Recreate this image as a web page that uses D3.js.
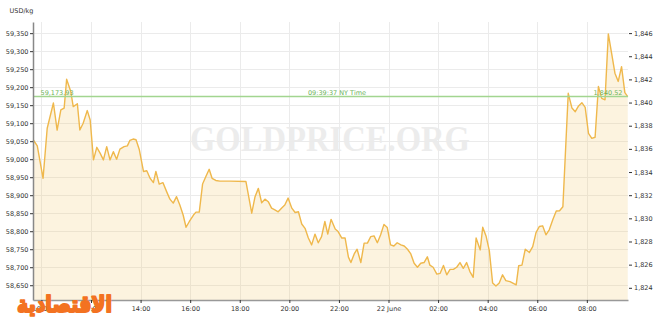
<!DOCTYPE html>
<html>
<head>
<meta charset="utf-8">
<script src="https://cdn.jsdelivr.net/npm/d3@7"></script>
<style>
body { margin: 0; background: #fff; }
svg { display: block; font-family: "DejaVu Sans", sans-serif; }
</style>
</head>
<body>
<svg id="chart" width="660" height="322"></svg>
<script>
// gold price, USD per kg, 24h ending 22 June 09:39 NY time
const times = [
  "21 09:40","21 09:50","21 10:04","21 10:14","21 10:29","21 10:38","21 10:47","21 10:55","21 11:01","21 11:11",
  "21 11:17","21 11:27","21 11:33","21 11:41","21 11:51","21 11:58","21 12:06","21 12:14","21 12:22","21 12:30",
  "21 12:38","21 12:46","21 12:54","21 13:02","21 13:10","21 13:20","21 13:28","21 13:34","21 13:42","21 13:49",
  "21 13:57","21 14:07","21 14:15","21 14:23","21 14:31","21 14:37","21 14:45","21 14:54","21 15:03","21 15:11",
  "21 15:19","21 15:27","21 15:35","21 15:43","21 15:50","21 15:58","21 16:08","21 16:14","21 16:22","21 16:30",
  "21 16:38","21 16:46","21 16:53","21 17:02","21 17:12","21 17:36","21 18:15","21 18:29","21 18:37","21 18:45",
  "21 18:53","21 19:01","21 19:09","21 19:17","21 19:25","21 19:33","21 19:41","21 19:49","21 19:57","21 20:06",
  "21 20:14","21 20:22","21 20:30","21 20:38","21 20:46","21 20:54","21 21:02","21 21:10","21 21:18","21 21:26",
  "21 21:33","21 21:41","21 21:51","21 21:58","21 22:07","21 22:15","21 22:23","21 22:29","21 22:37","21 22:44",
  "21 22:53","21 23:01","21 23:09","21 23:17","21 23:25","21 23:33","21 23:41","21 23:49","21 23:57","22 00:05",
  "22 00:13","22 00:21","22 00:30","22 00:38","22 00:46","22 00:54","22 01:02","22 01:10","22 01:18","22 01:26",
  "22 01:34","22 01:40","22 01:48","22 01:57","22 02:05","22 02:13","22 02:21","22 02:29","22 02:37","22 02:45",
  "22 02:53","22 03:01","22 03:09","22 03:17","22 03:25","22 03:32","22 03:42","22 03:48","22 03:56","22 04:04",
  "22 04:12","22 04:20","22 04:28","22 04:36","22 04:44","22 04:54","22 05:09","22 05:15","22 05:23","22 05:31",
  "22 05:41","22 05:49","22 05:57","22 06:05","22 06:13","22 06:21","22 06:29","22 06:38","22 06:46","22 06:54",
  "22 07:02","22 07:15","22 07:24","22 07:32","22 07:40","22 07:48","22 07:56","22 08:04","22 08:12","22 08:20",
  "22 08:28","22 08:36","22 08:44","22 08:52","22 09:00","22 09:08","22 09:16","22 09:24","22 09:32","22 09:39"
];
const prices = [
  59054,59037,58947,59086,59156,59081,59137,59142,59222,59188,
  59146,59154,59081,59100,59135,59109,58998,59033,59017,58998,
  59035,58998,59021,59000,59028,59035,59037,59052,59056,59054,
  59026,58966,58968,58947,58935,58966,58931,58935,58910,58889,
  58878,58896,58873,58845,58811,58827,58845,58853,58853,58931,
  58952,58972,58947,58941,58939,58939,58938,58850,58896,58919,
  58879,58889,58882,58864,58859,58854,58864,58873,58892,58864,
  58852,58854,58820,58808,58781,58762,58792,58768,58785,58827,
  58792,58833,58806,58799,58781,58781,58728,58713,58737,58750,
  58713,58767,58767,58785,58787,58768,58790,58819,58810,58762,
  58759,58768,58762,58759,58750,58737,58711,58700,58711,58713,
  58729,58706,58700,58681,58683,58705,58679,58694,58694,58700,
  58713,58697,58713,58688,58672,58781,58748,58811,58787,58746,
  58656,58648,58656,58679,58663,58660,58651,58704,58706,58750,
  58741,58757,58796,58813,58815,58790,58804,58833,58856,58857,
  58868,59183,59142,59132,59148,59157,59144,59072,59058,59061,
  59202,59169,59165,59348,59294,59239,59216,59257,59185,59174
];
const leftTicks = [58650,58700,58750,58800,58850,58900,58950,59000,59050,59100,59150,59200,59250,59300,59350];
const rightTicks = [1824,1826,1828,1830,1832,1834,1836,1838,1840,1842,1844,1846];
const xTickTimes = ["21 10:00","21 12:00","21 14:00","21 16:00","21 18:00","21 20:00","21 22:00",
                    "22 00:00","22 02:00","22 04:00","22 06:00","22 08:00"];
const xTickLabels = ["10:00","12:00","14:00","16:00","18:00","20:00","22:00",
                     "22 June","02:00","04:00","06:00","08:00"];
const spotKg = 59173.93;
const spotOz = 1840.52;
const spotTime = "09:39:37 NY Time";
const ozPerKg = 32.1507;

const parseFull = d3.timeParse("%Y-%m-%d %H:%M:%S");
const parse = s => parseFull("2022-06-" + s + (s.split(":").length < 3 ? ":00" : ""));
const data = times.map((t, i) => ({t: parse(t), v: prices[i]}));

const mLeft = 33, mRight = 628, mTop = 22, mBottom = 300;
const yMin = 58609, yMax = 59381;

const x = d3.scaleTime()
    .domain([parse("21 09:39:37"), parse("22 09:39:37")])
    .range([mLeft, mRight]);
const y = d3.scaleLinear().domain([yMin, yMax]).range([mBottom, mTop]);
const yR = d3.scaleLinear().domain([yMin / ozPerKg, yMax / ozPerKg]).range([mBottom, mTop]);

const svg = d3.select("#chart");

// watermark
svg.append("text")
    .attr("x", 330).attr("y", 151)
    .attr("text-anchor", "middle")
    .attr("font-family", "Liberation Serif, serif")
    .attr("font-weight", "bold")
    .attr("font-size", 36)
    .attr("textLength", 280)
    .attr("lengthAdjust", "spacingAndGlyphs")
    .attr("fill", "#ececec")
    .text("GOLDPRICE.ORG");

// grid
const grid = svg.append("g").attr("stroke", "#ebebeb").attr("stroke-width", 1);
grid.selectAll("line.h").data(leftTicks).enter().append("line")
    .attr("x1", mLeft).attr("x2", mRight)
    .attr("y1", d => Math.round(y(d)) + 0.5).attr("y2", d => Math.round(y(d)) + 0.5);
grid.selectAll("line.v").data(xTickTimes).enter().append("line")
    .attr("x1", d => Math.round(x(parse(d))) + 0.5).attr("x2", d => Math.round(x(parse(d))) + 0.5)
    .attr("y1", mTop).attr("y2", mBottom);

// area + line
const area = d3.area().x(d => x(d.t)).y0(mBottom).y1(d => y(d.v));
const line = d3.line().x(d => x(d.t)).y(d => y(d.v));
svg.append("path").datum(data)
    .attr("d", area)
    .attr("fill", "#eec35f")
    .attr("fill-opacity", 0.2);
svg.append("path").datum(data)
    .attr("d", line)
    .attr("fill", "none")
    .attr("stroke", "#efb84c")
    .attr("stroke-width", 1.4)
    .attr("stroke-linejoin", "round");

// current price line
const sy = y(spotKg);
svg.append("line")
    .attr("x1", mLeft).attr("x2", mRight)
    .attr("y1", sy).attr("y2", sy)
    .attr("stroke", "#a2d590").attr("stroke-width", 1.5);
const lab = svg.append("g").attr("fill", "#6cb35a").attr("font-size", 6.5);
lab.append("text").attr("x", 40.5).attr("y", sy - 1.5).text(d3.format(",.2f")(spotKg));
lab.append("text").attr("x", 337).attr("y", sy - 1.5).attr("text-anchor", "middle").text(spotTime);
lab.append("text").attr("x", 622.5).attr("y", sy - 1.5).attr("text-anchor", "end").text(d3.format(",.2f")(spotOz));

// axes
function styleAxis(g) {
    g.selectAll(".tick line").attr("stroke", "#333");
    g.selectAll(".tick text").attr("fill", "#333").attr("font-size", 6.5)
        .attr("font-family", "DejaVu Sans, sans-serif");
}
const axL = svg.append("g").attr("transform", `translate(${mLeft},0)`)
    .call(d3.axisLeft(y).tickValues(leftTicks).tickSize(3).tickSizeOuter(0).tickPadding(1.5)
        .tickFormat(d3.format(",")));
axL.select(".domain").attr("stroke", "#888").attr("stroke-width", 1.5);
styleAxis(axL);

const axR = svg.append("g").attr("transform", `translate(${mRight + 1},0)`)
    .call(d3.axisRight(yR).tickValues(rightTicks).tickSize(3).tickPadding(2)
        .tickFormat(d3.format(",")));
axR.select(".domain").remove();
styleAxis(axR);

const axB = svg.append("g").attr("transform", `translate(0,${mBottom})`)
    .call(d3.axisBottom(x).tickValues(xTickTimes.map(parse)).tickSize(3).tickSizeOuter(0).tickPadding(3)
        .tickFormat((d, i) => xTickLabels[i]));
axB.select(".domain").attr("stroke", "#999").attr("stroke-width", 1.5);
styleAxis(axB);

svg.append("text")
    .attr("x", 9.5).attr("y", 13)
    .attr("font-size", 6.5).attr("fill", "#333")
    .text("USD/kg");

// publisher logo on top (it covers the first two time labels, as in the source)
svg.append("text")
    .attr("x", 17).attr("y", 312)
    .attr("font-family", "DejaVu Sans, sans-serif")
    .attr("font-weight", "bold")
    .attr("font-size", 23)
    .attr("textLength", 95)
    .attr("lengthAdjust", "spacingAndGlyphs")
    .attr("fill", "#f37221")
    .attr("stroke", "#f37221").attr("stroke-width", 2)
    .attr("stroke-linejoin", "round")
    .text("الاقتصادية");
</script>
</body>
</html>
